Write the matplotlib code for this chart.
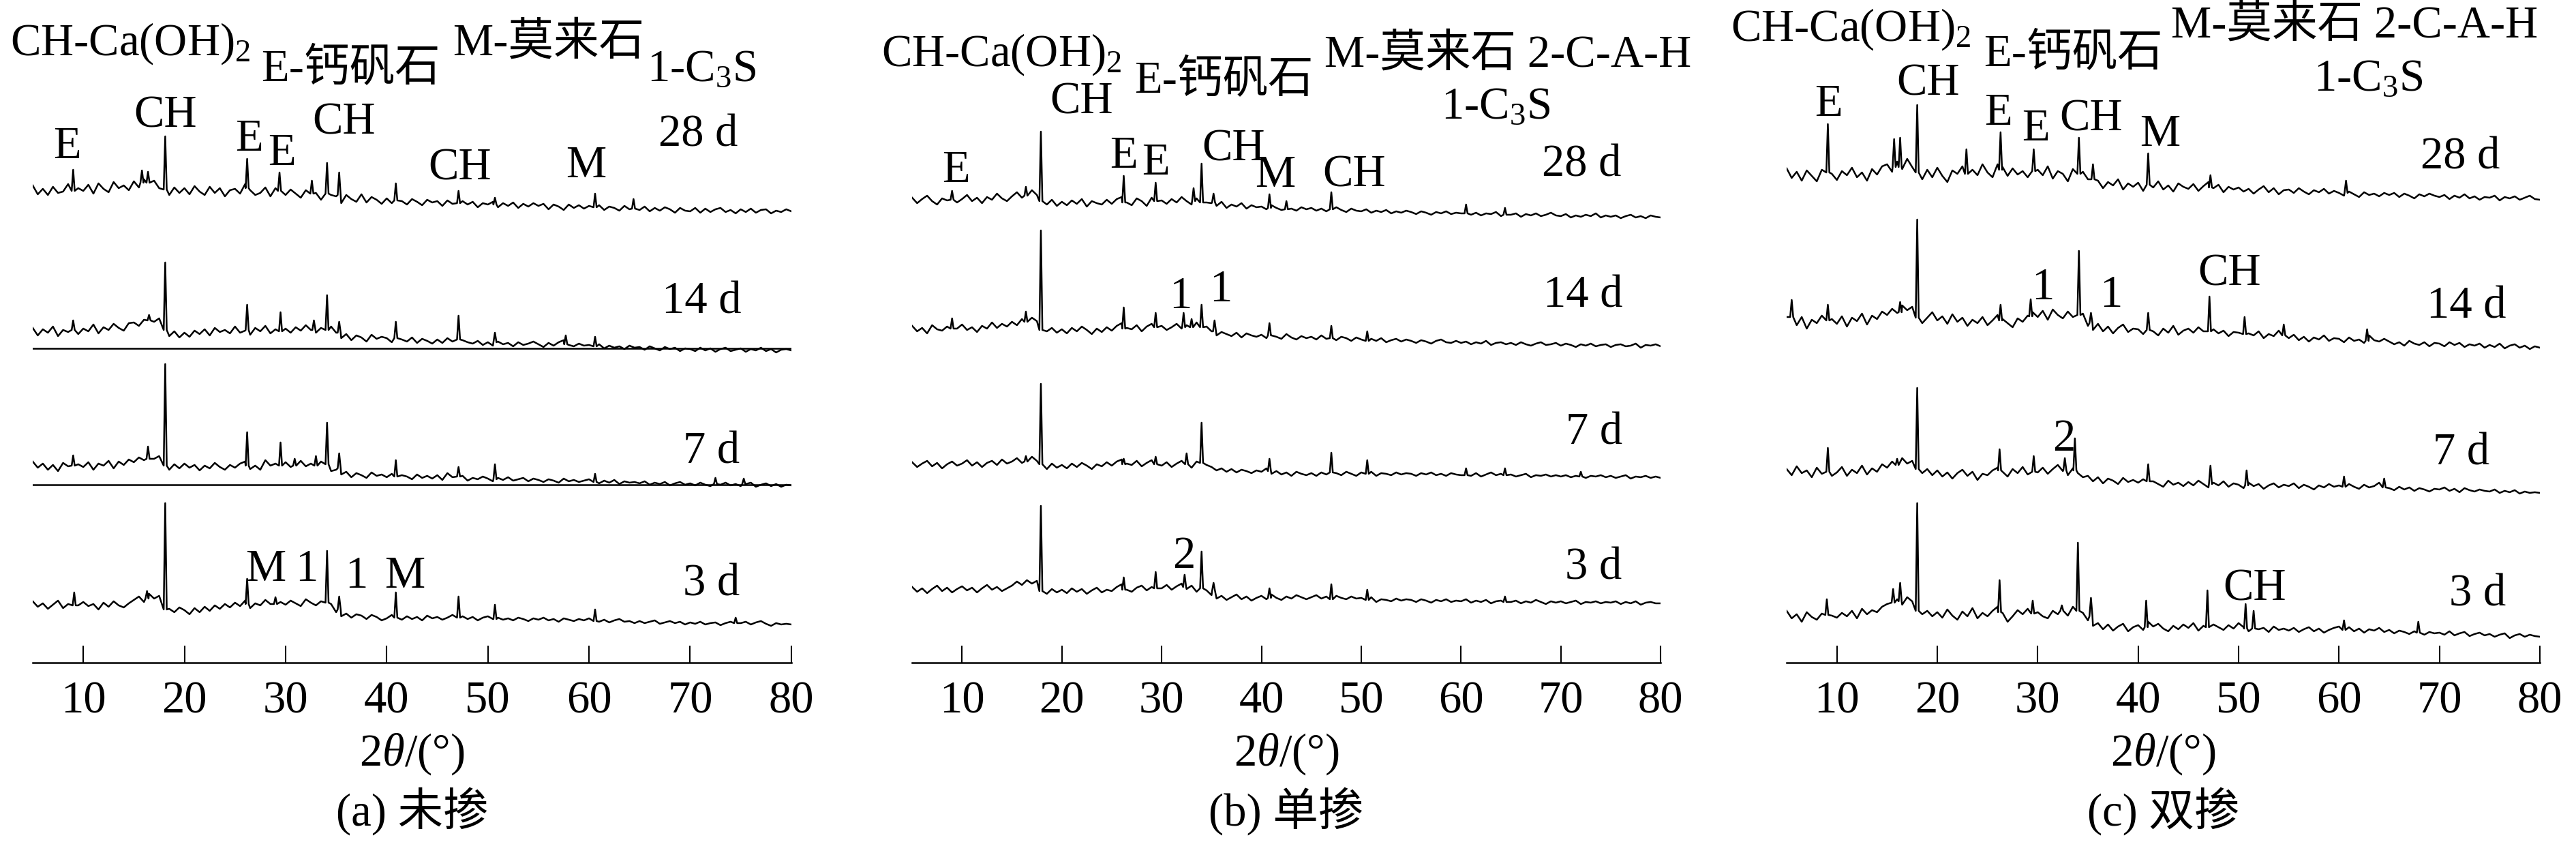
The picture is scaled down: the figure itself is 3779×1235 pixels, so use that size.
import numpy as np
import matplotlib.pyplot as plt

plt.rcParams['font.family'] = ['Liberation Serif', 'Noto Sans CJK SC']
plt.rcParams['mathtext.fontset'] = 'custom'
plt.rcParams['mathtext.rm'] = 'Liberation Serif'
plt.rcParams['mathtext.it'] = 'Liberation Serif:italic'

# ---------------------------------------------------------------- data
# 2theta grid (deg) for the background counts, 0.5 deg steps
two_theta = np.arange(5, 80.5, 0.5)
ages = ['3 d', '7 d', '14 d', '28 d']

# (a) 未掺 -- background counts (arb. units)
a_3d = [34, 26, 31, 23, 29, 35, 24, 30, 21, 28,
        33, 27, 30, 22, 32, 26, 34, 28, 25, 31,
        36, 41, 33, 45, 38, 42, 30, 23, 18, 25,
        21, 15, 24, 18, 26, 20, 28, 23, 30, 25,
        32, 27, 35, 24, 31, 28, 36, 30, 26, 33,
        29, 35, 31, 27, 37, 32, 28, 34, 26, 30,
        18, 12, 16, 10, 15, 13, 8, 14, 11, 6,
        9, 14, 10, 7, 12, 8, 11, 6, 13, 9,
        11, 7, 10, 14, 9, 12, 8, 11, 6, 10,
        12, 8, 10, 7, 9, 6, 10, 8, 5, 9,
        7, 10, 6, 8, 4, 9, 7, 5, 8, 6,
        9, 6, 4, 7, 3, 6, 8, 4, 5, 2,
        5, 2, 4, 6, 1, 3, 5, 2, 4, 0,
        3, 1, 4, 0, 2, 3, -1, 2, 4, 1,
        2, 4, 0, 3, 5, 1, -2, 2, 0, 1,
        0]
a_7d = [36, 27, 33, 24, 31, 22, 34, 29, 25, 32,
        28, 35, 24, 33, 30, 37, 26, 36, 31, 39,
        35, 42, 38, 46, 40, 44, 31, 24, 32, 26,
        33, 27, 31, 23, 30, 26, 34, 28, 24, 31,
        27, 33, 36, 25, 30, 24, 38, 30, 33, 27,
        35, 28, 31, 37, 29, 33, 26, 36, 30, 22,
        24, 17, 21, 13, 19, 16, 12, 20, 15, 17,
        13, 18, 11, 16, 14, 10, 17, 12, 15, 11,
        16, 9, 19, 13, 10, 15, 8, 12, 10, 14,
        11, 7, 12, 9, 13, 8, 10, 12, 7, 11,
        9, 6, 10, 8, 5, 11, 7, 9, 6, 8,
        10, 7, 4, 8, 5, 9, 3, 7, 5, 6,
        4, 7, 2, 5, 3, 6, 1, 4, 6, 2,
        4, 1, 5, 2, 0, 4, 2, 5, 1, 3,
        0, 3, 5, -1, 2, 4, 0, 3, -1, 2,
        1]
a_14d = [33, 22, 31, 26, 35, 21, 30, 27, 37, 24,
         32, 28, 38, 25, 34, 30, 39, 33, 29, 40,
         41, 36, 45, 49, 42, 47, 34, 21, 28, 19,
         26, 20, 29, 24, 31, 22, 33, 27, 30, 25,
         35, 26, 29, 23, 33, 28, 36, 25, 31, 27,
         32, 26, 34, 29, 37, 30, 26, 33, 28, 35,
         26, 18, 24, 15, 22, 19, 13, 23, 17, 20,
         18, 12, 21, 16, 13, 19, 11, 17, 14, 10,
         16, 11, 18, 13, 9, 15, 12, 10, 14, 8,
         12, 7, 13, 9, 11, 6, 12, 8, 10, 13,
         9, 5, 11, 7, 12, 15, 8, 6, 10, 7,
         8, 5, 9, 3, 7, 4, 6, 2, 7, 4,
         5, 1, 6, 3, 0, 5, 2, 4, -1, 3,
         2, -1, 4, 0, 3, -2, 2, 4, -1, 1,
         3, -2, 2, 0, 4, -1, 2, -3, 1, 2,
         0]
a_28d = [38, 25, 33, 24, 36, 27, 29, 40, 23, 34,
         30, 39, 26, 41, 33, 28, 43, 34, 38, 31,
         44, 35, 47, 40, 45, 34, 30, 24, 35, 27,
         34, 25, 37, 29, 24, 36, 27, 34, 22, 31,
         33, 26, 40, 31, 24, 27, 35, 22, 34, 29,
         24, 32, 26, 20, 31, 23, 27, 17, 29, 24,
         22, 12, 24, 18, 14, 25, 13, 21, 17, 11,
         19, 12, 20, 15, 10, 18, 14, 9, 17, 13,
         15, 8, 16, 11, 7, 15, 10, 14, 6, 12,
         10, 14, 6, 12, 8, 13, 5, 11, 7, 12,
         8, 11, 3, 10, 7, 2, 10, 5, 9, 4,
         8, 3, 9, 2, 7, 5, 1, 8, 3, 6,
         2, 7, 0, 5, 1, 6, 3, -2, 5, 1,
         0, 5, -2, 4, -1, 3, 5, -1, 2, -3,
         3, -1, 4, -2, 2, 3, -3, 1, -1, 3,
         0]
# peaks: (2theta, top, foot)
a_3d_peaks = [(9.1, 47, 28), (16.3, 49, 38), (18.1, 178, 22), (26.2, 67, 30),
              (29.0, 40, 30), (34.1, 108, 32), (35.3, 41, 22), (40.9, 47, 10),
              (47.1, 41, 10), (50.7, 29, 8), (60.6, 22, 5), (74.5, 10, 2)]
a_7d_peaks = [(9.0, 45, 30), (16.4, 58, 40), (18.1, 179, 30), (26.2, 79, 30),
              (29.5, 64, 30), (30.9, 40, 30), (33.0, 44, 30), (34.1, 93, 32),
              (35.3, 48, 26), (40.9, 38, 14), (47.1, 28, 14), (50.7, 32, 10),
              (60.6, 18, 6), (72.5, 12, 3), (75.3, 11, 3)]
a_14d_peaks = [(9.0, 44, 30), (16.5, 52, 44), (18.1, 129, 30), (26.2, 67, 30),
               (29.5, 56, 28), (32.8, 44, 30), (34.1, 81, 30), (35.3, 42, 26),
               (40.9, 42, 18), (47.1, 51, 16), (50.7, 26, 12), (57.7, 22, 9),
               (60.6, 20, 6)]
a_28d_peaks = [(9.0, 61, 30), (15.8, 60, 42), (16.4, 58, 42), (18.1, 110, 32),
               (26.2, 77, 34), (29.4, 57, 30), (32.6, 45, 26), (34.1, 71, 26),
               (35.3, 57, 24), (40.9, 41, 16), (47.1, 30, 12), (50.7, 20, 10),
               (60.6, 26, 6), (64.4, 18, 4)]

# (b) 单掺
b_3d = [24, 17, 22, 15, 21, 26, 18, 23, 16, 21,
        25, 19, 23, 16, 22, 27, 20, 24, 18, 22,
        26, 32, 27, 34, 29, 33, 24, 14, 21, 16,
        20, 15, 22, 17, 21, 14, 19, 23, 16, 20,
        18, 24, 28, 20, 17, 23, 26, 19, 24, 18,
        22, 27, 20, 25, 29, 21, 26, 17, 23, 19,
        12, 7, 11, 5, 9, 13, 6, 10, 4, 8,
        11, 6, 13, 8, 5, 10, 7, 12, 9, 6,
        9, 12, 7, 10, 5, 11, 8, 6, 10, 7,
        8, 4, 9, 2, 6, 5, 3, 7, 4, 6,
        5, 2, 6, 4, 1, 5, 3, 6, 2, 4,
        3, 6, 1, 4, 2, 5, 0, 3, 4, 1,
        2, 4, 0, 3, 1, 5, 2, -1, 3, 1,
        3, 0, 2, 4, -1, 2, 1, 3, 0, 2,
        1, 3, -1, 2, 0, 3, -2, 1, 2, 0,
        0]
b_7d = [23, 16, 21, 25, 17, 22, 14, 20, 24, 18,
        21, 26, 18, 23, 16, 22, 25, 19, 27, 21,
        24, 29, 22, 27, 31, 25, 19, 13, 21, 15,
        19, 14, 21, 16, 22, 18, 13, 20, 17, 23,
        18, 24, 27, 21, 19, 25, 17, 22, 26, 20,
        18, 23, 16, 21, 25, 19, 15, 24, 12, 19,
        16, 11, 14, 9, 13, 8, 12, 10, 7, 11,
        9, 14, 6, 10, 5, 8, 3, 9, 6, 4,
        7, 3, 8, 5, 10, 7, 4, 9, 6, 3,
        8, 5, 9, 3, 7, 6, 4, 8, 5, 7,
        6, 3, 7, 5, 8, 4, 6, 3, 7, 5,
        4, 6, 3, 7, 2, 5, 8, 4, 6, 3,
        5, 2, 4, 6, 1, 4, 3, 5, 2, 4,
        2, 4, 1, 3, 5, 0, 3, 2, 4, 1,
        3, 0, 2, 4, -1, 2, 1, 3, 0, 2,
        0]
b_14d = [30, 22, 27, 19, 31, 25, 23, 29, 20, 26,
         32, 24, 28, 21, 30, 26, 35, 27, 33, 29,
         36, 31, 40, 34, 42, 37, 30, 22, 27, 20,
         25, 19, 27, 22, 29, 24, 18, 26, 21, 28,
         23, 30, 34, 27, 25, 31, 22, 29, 33, 26,
         30, 24, 28, 33, 26, 31, 27, 35, 24, 29,
         22, 16, 21, 18, 15, 20, 13, 19, 16, 14,
         17, 12, 16, 14, 11, 18, 13, 10, 15, 12,
         14, 10, 16, 11, 13, 9, 14, 12, 8, 13,
         10, 7, 11, 8, 12, 6, 9, 11, 7, 10,
         8, 5, 9, 7, 4, 8, 10, 6, 5, 8,
         5, 7, 3, 6, 4, 8, 2, 5, 6, 3,
         5, 2, 6, 3, 1, 4, 6, 2, 3, 5,
         1, 4, 2, -1, 3, 1, 4, 0, 2, 3,
         -1, 2, 3, 0, 1, 4, -2, 2, 1, 3,
         0]
b_28d = [29, 21, 27, 32, 24, 19, 28, 25, 31, 22,
         27, 33, 24, 29, 21, 30, 26, 35, 28, 24,
         31, 37, 29, 35, 40, 33, 24, 19, 26, 17,
         23, 18, 25, 20, 27, 16, 24, 21, 19, 26,
         20, 27, 30, 22, 18, 28, 24, 17, 29, 23,
         25, 20, 27, 22, 30, 24, 19, 28, 15, 22,
         21, 17, 23, 14, 19, 16, 21, 13, 18, 15,
         16, 12, 18, 14, 11, 16, 13, 10, 15, 12,
         14, 10, 13, 9, 12, 15, 11, 8, 13, 10,
         9, 12, 7, 10, 8, 11, 6, 9, 7, 10,
         8, 5, 9, 7, 4, 8, 6, 9, 5, 7,
         6, 9, 4, 7, 3, 6, 5, 8, 2, 5,
         4, 6, 1, 5, 3, 6, 2, 4, 7, 3,
         2, 5, 0, 3, 1, 4, 2, 6, 0, 3,
         1, 3, -1, 2, 4, 0, 2, -1, 3, 1,
         0]
b_3d_peaks = [(17.9, 143, 18), (26.2, 38, 20), (29.4, 46, 22), (32.3, 42, 24),
              (34.0, 76, 22), (35.2, 30, 18), (40.8, 22, 8), (47.0, 28, 6),
              (50.6, 20, 5), (64.4, 10, 2)]
b_7d_peaks = [(16.4, 32, 24), (17.9, 138, 20), (26.2, 28, 20), (29.4, 31, 20),
              (32.5, 36, 20), (34.0, 81, 22), (40.8, 28, 10), (47.0, 37, 8),
              (50.6, 26, 6), (60.5, 14, 4), (64.4, 14, 4), (72.0, 9, 2)]
b_14d_peaks = [(9.0, 41, 26), (16.4, 51, 36), (17.9, 170, 24), (26.2, 57, 26),
               (29.4, 49, 28), (32.2, 49, 28), (33.0, 40, 28), (34.0, 61, 28),
               (35.3, 38, 22), (40.8, 34, 16), (47.0, 30, 12), (50.6, 22, 8)]
b_28d_peaks = [(9.0, 39, 26), (16.4, 45, 32), (17.9, 126, 24), (26.2, 61, 22),
               (29.4, 51, 24), (33.2, 43, 24), (34.0, 79, 22), (35.2, 35, 22),
               (40.8, 34, 14), (42.5, 24, 12), (47.0, 37, 12), (60.5, 19, 6),
               (64.4, 14, 4)]

# (c) 双掺
c_3d = [38, 27, 33, 22, 36, 29, 25, 34, 21, 31,
        28, 35, 30, 38, 27, 41, 33, 39, 36, 44,
        48, 41, 55, 47, 58, 52, 40, 33, 38, 30,
        36, 28, 40, 31, 25, 37, 30, 42, 27, 35,
        30, 38, 44, 35, 22, 30, 39, 33, 41, 29,
        36, 30, 27, 38, 33, 40, 31, 44, 28, 35,
        24, 16, 20, 11, 18, 9, 15, 19, 8, 14,
        17, 10, 22, 15, 19, 12, 8, 16, 11, 18,
        13, 20, 9, 16, 12, 18, 14, 10, 17, 12,
        20, 14, 8, 16, 11, 13, 7, 15, 10, 12,
        9, 13, 7, 11, 14, 8, 12, 6, 10, 13,
        15, 10, 14, 8, 12, 6, 11, 9, 13, 7,
        10, 5, 9, 7, 4, 8, 6, 3, 7, 5,
        6, 3, 8, 2, 5, 7, 1, 4, 6, 2,
        4, 0, 3, 5, -2, 2, 4, 0, 3, 1,
        0]
c_7d = [36, 27, 40, 30, 34, 24, 38, 29, 35, 26,
        31, 39, 26, 35, 30, 41, 28, 37, 32, 43,
        38, 47, 41, 52, 44, 48, 39, 30, 36, 27,
        34, 25, 31, 22, 30, 35, 26, 32, 20, 29,
        27, 34, 38, 32, 25, 36, 30, 39, 28, 35,
        31, 38, 29, 36, 42, 33, 27, 37, 30, 24,
        26, 18, 24, 15, 22, 19, 14, 23, 17, 20,
        16, 21, 12, 18, 14, 10, 19, 13, 16, 11,
        17, 12, 19, 14, 9, 16, 12, 18, 10, 15,
        13, 8, 16, 11, 14, 7, 12, 15, 9, 13,
        11, 15, 8, 13, 10, 6, 12, 9, 14, 10,
        12, 8, 14, 10, 7, 13, 9, 11, 16, 10,
        8, 5, 10, 6, 9, 4, 8, 6, 3, 7,
        6, 9, 4, 7, 2, 8, 5, 3, 6, 4,
        3, 6, 1, 4, 2, 5, 0, 3, 1, 2,
        1]
c_14d = [45, 38, 33, 45, 28, 41, 36, 47, 30, 42,
         35, 46, 31, 44, 39, 50, 34, 47, 42, 53,
         48, 57, 51, 62, 55, 60, 47, 36, 44, 52,
         40, 46, 35, 49, 38, 44, 32, 41, 36, 45,
         33, 40, 48, 42, 36, 30, 43, 38, 47, 52,
         45, 54, 41, 56, 48, 43, 53, 45, 34, 50,
         32, 26, 35, 24, 31, 21, 29, 34, 23, 28,
         27, 20, 30, 24, 18, 28, 22, 32, 19, 25,
         28, 22, 30, 24, 19, 27, 21, 25, 17, 23,
         22, 15, 21, 18, 24, 14, 20, 17, 25, 16,
         14, 19, 11, 16, 9, 15, 12, 18, 10, 14,
         13, 8, 15, 10, 12, 7, 18, 11, 9, 13,
         9, 5, 8, 3, 10, 6, 4, 8, 2, 7,
         6, 2, 8, 4, 7, 1, 5, 3, 6, 0,
         4, 1, 6, -1, 3, 5, 0, 3, -2, 2,
         0]
c_28d = [46, 32, 41, 28, 43, 35, 27, 44, 31, 38,
         29, 42, 36, 47, 33, 40, 28, 45, 37, 49,
         52, 41, 56, 45, 60, 48, 38, 30, 44, 33,
         47, 35, 26, 43, 38, 49, 31, 44, 36, 52,
         40, 33, 52, 48, 35, 46, 37, 42, 33, 50,
         44, 36, 49, 31, 42, 38, 27, 45, 35, 41,
         30, 22, 28, 17, 26, 21, 30, 15, 24, 19,
         25, 13, 22, 18, 27, 15, 21, 12, 24, 19,
         16, 23, 13, 20, 26, 17, 22, 11, 19, 15,
         18, 12, 16, 9, 15, 20, 11, 17, 8, 14,
         15, 10, 17, 12, 8, 14, 11, 16, 9, 13,
         10, 6, 12, 8, 4, 11, 7, 9, 5, 10,
         7, 10, 4, 9, 6, 2, 8, 5, 9, 6,
         4, 7, 1, 6, 3, 8, 2, 5, 0, 4,
         3, 6, -1, 4, 2, 5, 0, 3, 6, 1,
         0]
c_3d_peaks = [(9.0, 55, 32), (15.6, 70, 50), (16.3, 79, 52), (18.0, 196, 38),
              (26.2, 83, 36), (29.5, 53, 34), (32.4, 46, 38), (34.0, 138, 38),
              (35.3, 57, 30), (40.8, 53, 14), (46.9, 68, 14), (50.7, 48, 12),
              (51.5, 38, 12), (60.5, 24, 10), (67.9, 22, 6)]
c_7d_peaks = [(9.1, 67, 32), (16.0, 51, 42), (18.0, 155, 36), (26.2, 65, 34),
              (29.6, 55, 32), (32.7, 52, 34), (33.7, 81, 34), (41.0, 43, 18),
              (47.2, 41, 14), (50.8, 34, 12), (60.5, 25, 10), (64.5, 22, 9)]
c_14d_peaks = [(5.5, 70, 45), (9.1, 63, 40), (16.3, 67, 52), (18.0, 188, 44),
               (26.3, 63, 40), (29.3, 71, 46), (34.1, 142, 48), (35.3, 51, 36),
               (41.0, 51, 26), (47.1, 75, 24), (50.6, 45, 20), (54.5, 34, 18),
               (62.8, 27, 10)]
c_28d_peaks = [(9.1, 111, 40), (15.7, 89, 48), (16.3, 91, 48), (18.0, 139, 40),
               (22.9, 74, 38), (26.3, 99, 44), (29.6, 74, 42), (34.1, 91, 38),
               (35.5, 52, 30), (41.0, 68, 22), (47.2, 36, 18), (60.7, 28, 10)]

# ------------------------------------------------------------- layout
# vertical stacking of the patterns (same units as the counts)
offsets = {'a': [56, 259, 458, 662],
           'b': [87, 271, 464, 653],
           'c': [38, 248, 462, 679]}
age_label_pos = {'a': [(72.1, 98), (72.1, 292), (71.1, 512), (70.8, 757)],
                 'b': [(73.3, 122), (73.3, 320), (72.2, 521), (72.1, 713)],
                 'c': [(73.8, 83), (72.2, 290), (72.7, 505), (72.1, 724)]}

CH2 = r'CH-Ca(OH)$_\mathrm{2}$'
C3S = r'1-C$_\mathrm{3}$S'
legend_txt = {
    'a': [(CH2, 2.8, 891), ('E-钙矾石', 27.6, 853), ('M-莫来石', 46.5, 891),
          (C3S, 65.7, 853)],
    'b': [(CH2, 1.9, 875), ('E-钙矾石', 27.3, 836),
          ('M-莫来石 2-C-A-H', 46.3, 874), (C3S, 58.0, 798)],
    'c': [(CH2, -0.6, 912), ('E-钙矾石', 24.6, 875),
          ('M-莫来石 2-C-A-H', 43.3, 917), (C3S, 57.5, 839)],
}
peak_txt = {
    'a': [('E', 8.4, 740), ('CH', 18.1, 785), ('E', 26.4, 751), ('E', 29.6, 730),
          ('CH', 35.8, 775), ('CH', 47.2, 708), ('M', 59.7, 712),
          ('M', 28.0, 120), ('1', 32.1, 120), ('1', 37.0, 110), ('M', 41.8, 110)],
    'b': [('CH', 22.0, 805), ('E', 9.4, 705), ('E', 26.2, 726), ('E', 29.4, 716),
          ('CH', 37.2, 736), ('M', 41.4, 698), ('CH', 49.3, 698),
          ('1', 31.9, 520), ('1', 35.9, 530), ('2', 32.2, 139)],
    'c': [('E', 9.2, 802), ('CH', 19.1, 832), ('E', 26.1, 789), ('E', 29.8, 766),
          ('CH', 35.3, 780), ('M', 42.2, 758), ('1', 30.5, 533), ('1', 37.3, 522),
          ('CH', 49.1, 553), ('2', 32.6, 311), ('CH', 51.6, 91)],
}
captions = {'a': '(a) 未掺', 'b': '(b) 单掺', 'c': '(c) 双掺'}
curves = {'a': [(a_3d, a_3d_peaks), (a_7d, a_7d_peaks),
                (a_14d, a_14d_peaks), (a_28d, a_28d_peaks)],
          'b': [(b_3d, b_3d_peaks), (b_7d, b_7d_peaks),
                (b_14d, b_14d_peaks), (b_28d, b_28d_peaks)],
          'c': [(c_3d, c_3d_peaks), (c_7d, c_7d_peaks),
                (c_14d, c_14d_peaks), (c_28d, c_28d_peaks)]}
axes_box = {'a': [0.0127, 0.2130, 0.2944, 0.7870],
            'b': [0.3540, 0.2130, 0.2905, 0.7870],
            'c': [0.6934, 0.2130, 0.2923, 0.7870]}

FS = 48
HW = 0.15  # half width of a peak foot, deg


def build_trace(counts, peaks):
    x = np.asarray(two_theta, dtype=float)
    y = np.asarray(counts, dtype=float)
    keep = np.ones(len(x), dtype=bool)
    for pos, _, _ in peaks:
        keep &= ~((x > pos - HW - 1e-6) & (x < pos + HW + 1e-6))
    xs, ys = list(x[keep]), list(y[keep])
    for pos, top, foot in peaks:
        xs += [pos - HW, pos, pos + HW]
        ys += [foot, top, foot]
    order = np.argsort(xs, kind='stable')
    return np.array(xs)[order], np.array(ys)[order]


fig = plt.figure(figsize=(37.8, 12.35), dpi=100)

for key in ['a', 'b', 'c']:
    ax = fig.add_axes(axes_box[key])
    for (counts, peaks), off in zip(curves[key], offsets[key]):
        x, y = build_trace(counts, peaks)
        ax.plot(x, y + off, color='black', lw=1.8)
    if key == 'a':
        ax.axhline(261, color='black', lw=1.8)
        ax.axhline(461, color='black', lw=1.8)

    ax.set_xlim(5, 80)
    ax.set_ylim(0, 972)
    ax.set_xticks([10, 20, 30, 40, 50, 60, 70, 80])
    ax.set_yticks([])
    for s in ['top', 'right', 'left']:
        ax.spines[s].set_visible(False)
    ax.spines['bottom'].set_linewidth(1.8)
    ax.tick_params(axis='x', direction='in', length=18, width=1.5,
                   labelsize=FS, pad=19)
    ax.patch.set_visible(False)

    for txt, (px, py) in zip(ages, age_label_pos[key]):
        ax.text(px, py, txt, fontsize=FS, ha='center', va='baseline')
    for txt, px, py in legend_txt[key]:
        ax.text(px, py, txt, fontsize=FS, ha='left', va='baseline',
                clip_on=False)
    for txt, px, py in peak_txt[key]:
        ax.text(px, py, txt, fontsize=FS, ha='center', va='baseline',
                clip_on=False)

    ax.text(42.5, -134, r'2$\theta$/(°)', fontsize=FS, ha='center',
            va='center', clip_on=False)
    ax.text(42.5, -218, captions[key], fontsize=FS, ha='center',
            va='center', clip_on=False)

fig.savefig('out.png', dpi=100)
